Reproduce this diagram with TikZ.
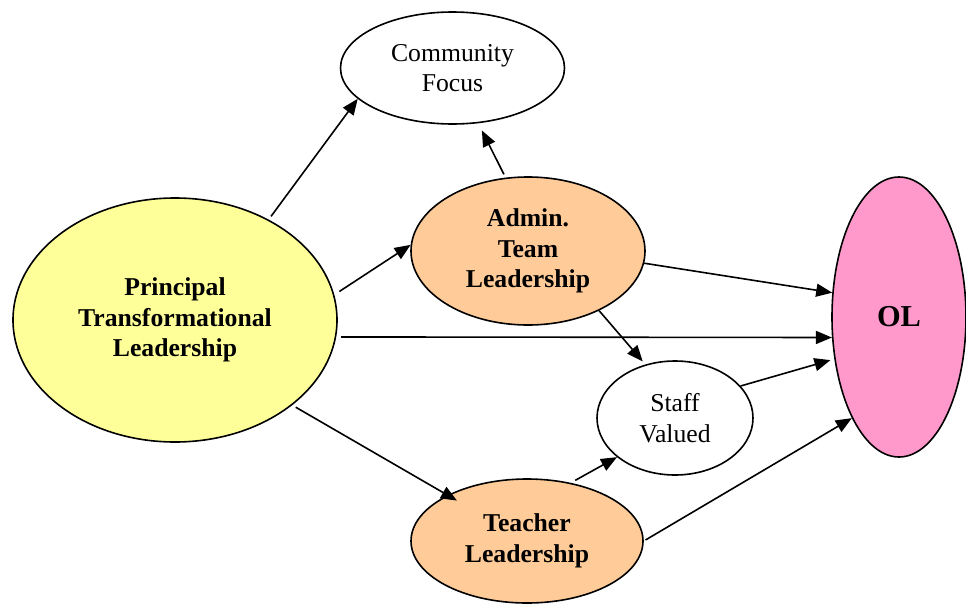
\documentclass[tikz,border=0pt]{standalone}
\usepackage{fontspec}
\setmainfont{Liberation Serif}
\usetikzlibrary{arrows.meta,shapes.geometric}
\definecolor{yel}{HTML}{FFFF99}
\definecolor{ora}{HTML}{FFCC99}
\definecolor{pnk}{HTML}{FF99CC}
\begin{document}
\begin{tikzpicture}[x=1pt,y=-1pt,
  ell/.style={ellipse,draw,line width=1.6pt,inner sep=0pt,align=center},
  rtxt/.style={font=\fontsize{25.7}{30.5}\selectfont},
  btxt/.style={font=\fontsize{25.7}{30.5}\selectfont\bfseries},
  arr/.style={line width=1.6pt,-{Triangle[length=16pt,width=13pt]}}]
\useasboundingbox (0,0) rectangle (966,605);
\node[ell,btxt,fill=yel,minimum width=324pt,minimum height=244pt] (p) at (175,320) {Principal\\Transformational\\Leadership};
\node[ell,rtxt,fill=white,minimum width=224pt,minimum height=112pt] (cf) at (452.5,68) {Community\\Focus};
\node[ell,btxt,fill=ora,minimum width=234pt,minimum height=148pt] (adm) at (528,251) {Admin.\\Team\\Leadership};
\node[ell,rtxt,fill=white,minimum width=156pt,minimum height=114pt] (sv) at (675,418) {Staff\\Valued};
\node[ell,btxt,fill=ora,minimum width=232pt,minimum height=124pt] (tch) at (527,541) {Teacher\\Leadership};
\node[ell,fill=pnk,minimum width=134pt,minimum height=280pt,font=\fontsize{30.4}{36}\selectfont\bfseries] (ol) at (899,317) {OL};
\draw[arr,shorten <=4pt] (p.47.3) -- (cf.198.5);
\draw[arr,shorten <=6pt] (p.9.6) -- (adm.177);
\draw[arr,shorten <=5pt] (p.-6.9) -- (ol.197.6);
\draw[arr,shorten <=4pt,shorten >=-11pt] (p.-36.7) -- (tch.150.8);
\draw[arr,shorten <=3.6pt,shorten >=8pt] (adm.107.5) -- (cf.295.4);
\draw[arr] (adm.-6) -- (ol.160.6);
\draw[arr,shorten >=4pt] (adm.-40.1) -- (sv.119.7);
\draw[arr,shorten >=4pt] (sv.26.9) -- (ol.213.5);
\draw[arr,shorten <=5pt] (tch.53.4) -- (sv.214.2);
\draw[arr,shorten <=2pt] (tch.0) -- (ol.245);
\end{tikzpicture}
\end{document}
